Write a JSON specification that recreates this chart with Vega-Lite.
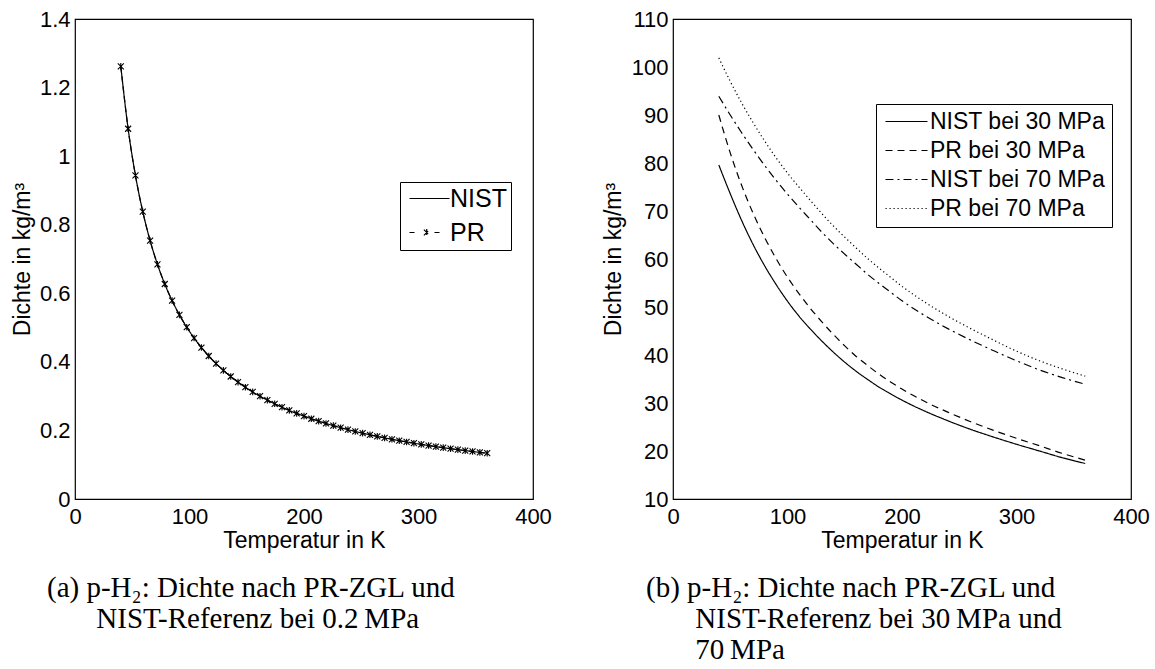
{
  "$schema": "https://vega.github.io/schema/vega-lite/v6.json",
  "padding": {"left": 10, "top": 7, "right": 5, "bottom": 5},
  "background": "white",
  "resolve": {"scale": {"strokeDash": "independent"}, "legend": {"strokeDash": "independent"}},
  "config": {
    "font": "Liberation Sans",
    "view": {"stroke": "black", "strokeWidth": 1.2},
    "axis": {"grid": false, "domain": false, "labelFont": "Liberation Sans", "labelFontSize": 22, "labelColor": "black", "titleFont": "Liberation Sans", "titleFontSize": 23, "titleFontWeight": "normal", "titleColor": "black", "tickColor": "black", "tickWidth": 1, "tickSize": 0, "labelOverlap": false, "labelFlush": false, "format": "~f"},
    "legend": {"labelFont": "Liberation Sans", "labelFontSize": 23, "labelColor": "black", "strokeColor": "black", "fillColor": "white", "symbolStrokeColor": "black", "symbolStrokeWidth": 1.2, "symbolSize": 16, "title": null, "labelLimit": 0}
  },
  "datasets": {
    "low": [
      {"T": 40, "NIST": 1.2619, "PR": 1.2619},
      {"T": 46.4, "NIST": 1.0799, "PR": 1.0799},
      {"T": 52.8, "NIST": 0.9437, "PR": 0.9437},
      {"T": 59.2, "NIST": 0.838, "PR": 0.838},
      {"T": 65.6, "NIST": 0.7535, "PR": 0.7535},
      {"T": 72, "NIST": 0.6845, "PR": 0.6845},
      {"T": 78.4, "NIST": 0.6271, "PR": 0.6271},
      {"T": 84.8, "NIST": 0.5786, "PR": 0.5786},
      {"T": 91.2, "NIST": 0.537, "PR": 0.537},
      {"T": 97.6, "NIST": 0.501, "PR": 0.501},
      {"T": 104, "NIST": 0.4695, "PR": 0.4695},
      {"T": 110.4, "NIST": 0.4418, "PR": 0.4418},
      {"T": 116.8, "NIST": 0.4171, "PR": 0.4171},
      {"T": 123.2, "NIST": 0.395, "PR": 0.395},
      {"T": 129.6, "NIST": 0.3752, "PR": 0.3752},
      {"T": 136, "NIST": 0.3573, "PR": 0.3573},
      {"T": 142.4, "NIST": 0.341, "PR": 0.341},
      {"T": 148.8, "NIST": 0.3261, "PR": 0.3261},
      {"T": 155.2, "NIST": 0.3124, "PR": 0.3124},
      {"T": 161.6, "NIST": 0.2999, "PR": 0.2999},
      {"T": 168, "NIST": 0.2883, "PR": 0.2883},
      {"T": 174.4, "NIST": 0.2776, "PR": 0.2776},
      {"T": 180.8, "NIST": 0.2677, "PR": 0.2677},
      {"T": 187.2, "NIST": 0.2584, "PR": 0.2584},
      {"T": 193.6, "NIST": 0.2498, "PR": 0.2498},
      {"T": 200, "NIST": 0.2417, "PR": 0.2417},
      {"T": 206.4, "NIST": 0.2341, "PR": 0.2341},
      {"T": 212.8, "NIST": 0.227, "PR": 0.227},
      {"T": 219.2, "NIST": 0.2203, "PR": 0.2203},
      {"T": 225.6, "NIST": 0.214, "PR": 0.214},
      {"T": 232, "NIST": 0.208, "PR": 0.208},
      {"T": 238.4, "NIST": 0.2024, "PR": 0.2024},
      {"T": 244.8, "NIST": 0.197, "PR": 0.197},
      {"T": 251.2, "NIST": 0.192, "PR": 0.192},
      {"T": 257.6, "NIST": 0.1872, "PR": 0.1872},
      {"T": 264, "NIST": 0.1826, "PR": 0.1826},
      {"T": 270.4, "NIST": 0.1782, "PR": 0.1782},
      {"T": 276.8, "NIST": 0.1741, "PR": 0.1741},
      {"T": 283.2, "NIST": 0.1701, "PR": 0.1701},
      {"T": 289.6, "NIST": 0.1663, "PR": 0.1663},
      {"T": 296, "NIST": 0.1627, "PR": 0.1627},
      {"T": 302.4, "NIST": 0.1592, "PR": 0.1592},
      {"T": 308.8, "NIST": 0.1559, "PR": 0.1559},
      {"T": 315.2, "NIST": 0.1527, "PR": 0.1527},
      {"T": 321.6, "NIST": 0.1497, "PR": 0.1497},
      {"T": 328, "NIST": 0.1467, "PR": 0.1467},
      {"T": 334.4, "NIST": 0.1439, "PR": 0.1439},
      {"T": 340.8, "NIST": 0.1412, "PR": 0.1412},
      {"T": 347.2, "NIST": 0.1386, "PR": 0.1386},
      {"T": 353.6, "NIST": 0.136, "PR": 0.136},
      {"T": 360, "NIST": 0.1336, "PR": 0.1336}
    ],
    "high": [
      {"T": 40, "NIST bei 30 MPa": 79.6, "PR bei 30 MPa": 90.0, "NIST bei 70 MPa": 93.9, "PR bei 70 MPa": 101.9},
      {"T": 50, "NIST bei 30 MPa": 73.6, "PR bei 30 MPa": 82.1, "NIST bei 70 MPa": 90.0, "PR bei 70 MPa": 97.0},
      {"T": 60, "NIST bei 30 MPa": 68.0, "PR bei 30 MPa": 75.3, "NIST bei 70 MPa": 86.3, "PR bei 70 MPa": 92.5},
      {"T": 70, "NIST bei 30 MPa": 63.0, "PR bei 30 MPa": 69.5, "NIST bei 70 MPa": 82.8, "PR bei 70 MPa": 88.4},
      {"T": 80, "NIST bei 30 MPa": 58.6, "PR bei 30 MPa": 64.5, "NIST bei 70 MPa": 79.5, "PR bei 70 MPa": 84.6},
      {"T": 90, "NIST bei 30 MPa": 54.7, "PR bei 30 MPa": 60.1, "NIST bei 70 MPa": 76.4, "PR bei 70 MPa": 81.1},
      {"T": 100, "NIST bei 30 MPa": 51.2, "PR bei 30 MPa": 56.2, "NIST bei 70 MPa": 73.5, "PR bei 70 MPa": 77.9},
      {"T": 110, "NIST bei 30 MPa": 48.1, "PR bei 30 MPa": 52.8, "NIST bei 70 MPa": 70.8, "PR bei 70 MPa": 75.0},
      {"T": 120, "NIST bei 30 MPa": 45.4, "PR bei 30 MPa": 49.7, "NIST bei 70 MPa": 68.2, "PR bei 70 MPa": 72.2},
      {"T": 130, "NIST bei 30 MPa": 42.9, "PR bei 30 MPa": 46.9, "NIST bei 70 MPa": 65.6, "PR bei 70 MPa": 69.45},
      {"T": 140, "NIST bei 30 MPa": 40.6, "PR bei 30 MPa": 44.3, "NIST bei 70 MPa": 63.2, "PR bei 70 MPa": 66.9},
      {"T": 150, "NIST bei 30 MPa": 38.5, "PR bei 30 MPa": 41.9, "NIST bei 70 MPa": 61.0, "PR bei 70 MPa": 64.55},
      {"T": 160, "NIST bei 30 MPa": 36.6, "PR bei 30 MPa": 39.7, "NIST bei 70 MPa": 58.9, "PR bei 70 MPa": 62.3},
      {"T": 170, "NIST bei 30 MPa": 34.9, "PR bei 30 MPa": 37.8, "NIST bei 70 MPa": 56.8, "PR bei 70 MPa": 60.1},
      {"T": 180, "NIST bei 30 MPa": 33.3, "PR bei 30 MPa": 36.0, "NIST bei 70 MPa": 54.9, "PR bei 70 MPa": 58.1},
      {"T": 190, "NIST bei 30 MPa": 31.9, "PR bei 30 MPa": 34.4, "NIST bei 70 MPa": 53.1, "PR bei 70 MPa": 56.2},
      {"T": 200, "NIST bei 30 MPa": 30.6, "PR bei 30 MPa": 32.9, "NIST bei 70 MPa": 51.3, "PR bei 70 MPa": 54.3},
      {"T": 210, "NIST bei 30 MPa": 29.4, "PR bei 30 MPa": 31.55, "NIST bei 70 MPa": 49.7, "PR bei 70 MPa": 52.6},
      {"T": 220, "NIST bei 30 MPa": 28.3, "PR bei 30 MPa": 30.3, "NIST bei 70 MPa": 48.2, "PR bei 70 MPa": 51.0},
      {"T": 240, "NIST bei 30 MPa": 26.3, "PR bei 30 MPa": 28.1, "NIST bei 70 MPa": 45.5, "PR bei 70 MPa": 48.1},
      {"T": 260, "NIST bei 30 MPa": 24.5, "PR bei 30 MPa": 26.1, "NIST bei 70 MPa": 43.1, "PR bei 70 MPa": 45.5},
      {"T": 280, "NIST bei 30 MPa": 22.9, "PR bei 30 MPa": 24.3, "NIST bei 70 MPa": 40.9, "PR bei 70 MPa": 43.1},
      {"T": 300, "NIST bei 30 MPa": 21.4, "PR bei 30 MPa": 22.65, "NIST bei 70 MPa": 38.8, "PR bei 70 MPa": 40.8},
      {"T": 320, "NIST bei 30 MPa": 20.0, "PR bei 30 MPa": 21.1, "NIST bei 70 MPa": 36.9, "PR bei 70 MPa": 38.8},
      {"T": 340, "NIST bei 30 MPa": 18.6, "PR bei 30 MPa": 19.5, "NIST bei 70 MPa": 35.3, "PR bei 70 MPa": 37.1},
      {"T": 360, "NIST bei 30 MPa": 17.4, "PR bei 30 MPa": 18.1, "NIST bei 70 MPa": 33.9, "PR bei 70 MPa": 35.6}
    ]
  },
  "spacing": 49,
  "hconcat": [
    {
      "width": 458,
      "height": 480,
      "title": {"text": ["(a) p-H₂: Dichte nach PR-ZGL und", "\u200b\u2003\u2002\u2009NIST-Referenz bei 0.2\u2009MPa"], "orient": "bottom", "anchor": "start", "frame": "group", "dx": -28, "offset": 22, "font": "Liberation Serif", "fontSize": 29, "fontWeight": "normal", "color": "black", "lineHeight": 31},
      "data": {"name": "low"},
      "transform": [{"fold": ["NIST", "PR"], "as": ["model", "rho"]}],
      "resolve": {"axis": {"x": "independent", "y": "independent"}},
      "layer": [
        {
          "mark": {"type": "line", "strokeWidth": 1.2, "interpolate": "monotone", "color": "black"},
          "encoding": {
            "x": {"field": "T", "type": "quantitative", "scale": {"domain": [0, 400], "nice": false, "zero": false},
              "axis": {"orient": "bottom", "title": "Temperatur in K", "values": [0,10,20,30,40,50,60,70,80,90,100,110,120,130,140,150,160,170,180,190,200,210,220,230,240,250,260,270,280,290,300,310,320,330,340,350,360,370,380,390,400], "labelExpr": "datum.value % 100 === 0 ? datum.label : ''", "labelPadding": 7, "titlePadding": 2,
                "encode": {"ticks": {"update": {"y2": {"signal": "datum.value % 100 === 0 ? -5 : -3"}}}}}},
            "y": {"field": "rho", "type": "quantitative", "scale": {"domain": [0, 1.4], "nice": false},
              "axis": {"orient": "left", "title": "Dichte in kg/m³", "values": [0,0.04,0.08,0.12,0.16,0.2,0.24,0.28,0.32,0.36,0.4,0.44,0.48,0.52,0.56,0.6,0.64,0.68,0.72,0.76,0.8,0.84,0.88,0.92,0.96,1,1.04,1.08,1.12,1.16,1.2,1.24,1.28,1.32,1.36,1.4], "labelExpr": "abs(datum.value*5 - round(datum.value*5)) < 0.001 ? datum.label : ''", "labelPadding": 5, "titlePadding": 5,
                "encode": {"ticks": {"update": {"x2": {"signal": "abs(datum.value*5 - round(datum.value*5)) < 0.001 ? 5 : 3"}}}}}},
            "strokeDash": {"field": "model", "type": "nominal", "scale": {"domain": ["NIST", "PR"], "range": [[1, 0], [6, 4]]},
              "legend": {"orient": "none", "legendX": 325, "legendY": 163, "padding": 4, "rowPadding": 8, "labelOffset": 21, "labelFontSize": 25,
                "encode": {"symbols": {"update": {
                  "shape": {"signal": "datum.value === 'PR' ? 'M-3.5,0L-1,0M9,0L11.5,0M3.7,-1.4L6.5,1.4M3.7,1.4L6.5,-1.4M5.1,-1.7L5.1,1.7' : 'M-3.5,0L16.5,0'"},
                  "strokeDash": {"value": [1, 0]},
                  "fill": {"value": "transparent"},
                  "stroke": {"value": "black"}}}}}}
          }
        },
        {
          "transform": [{"filter": "datum.model === 'PR'"}],
          "mark": {"type": "point", "shape": "M-1,-1L1,1M-1,1L1,-1M0,-1.1L0,1.1", "size": 36, "strokeWidth": 1.1, "color": "black", "filled": false, "opacity": 1},
          "encoding": {
            "x": {"field": "T", "type": "quantitative",
              "axis": {"orient": "top", "title": null, "labels": false, "values": [0,10,20,30,40,50,60,70,80,90,100,110,120,130,140,150,160,170,180,190,200,210,220,230,240,250,260,270,280,290,300,310,320,330,340,350,360,370,380,390,400],
                "encode": {"ticks": {"update": {"y2": {"signal": "datum.value % 100 === 0 ? 5 : 3"}}}}}},
            "y": {"field": "rho", "type": "quantitative",
              "axis": {"orient": "right", "title": null, "labels": false, "values": [0,0.04,0.08,0.12,0.16,0.2,0.24,0.28,0.32,0.36,0.4,0.44,0.48,0.52,0.56,0.6,0.64,0.68,0.72,0.76,0.8,0.84,0.88,0.92,0.96,1,1.04,1.08,1.12,1.16,1.2,1.24,1.28,1.32,1.36,1.4],
                "encode": {"ticks": {"update": {"x2": {"signal": "abs(datum.value*5 - round(datum.value*5)) < 0.001 ? -5 : -3"}}}}}}
          }
        }
      ]
    },
    {
      "width": 458,
      "height": 480,
      "title": {"text": ["(b) p-H₂: Dichte nach PR-ZGL und", "\u200b\u2003\u2002\u2009NIST-Referenz bei 30\u2009MPa und", "\u200b\u2003\u2002\u200970\u2009MPa"], "orient": "bottom", "anchor": "start", "frame": "group", "dx": -27, "offset": 22, "font": "Liberation Serif", "fontSize": 29, "fontWeight": "normal", "color": "black", "lineHeight": 31},
      "data": {"name": "high"},
      "transform": [{"fold": ["NIST bei 30 MPa", "PR bei 30 MPa", "NIST bei 70 MPa", "PR bei 70 MPa"], "as": ["model", "rho"]}],
      "resolve": {"axis": {"x": "independent", "y": "independent"}},
      "layer": [
        {
          "transform": [{"filter": "indexof(datum.model, 'NIST') === 0"}],
          "mark": {"type": "line", "strokeWidth": 1.2, "interpolate": "monotone", "color": "black"},
          "encoding": {
            "x": {"field": "T", "type": "quantitative", "scale": {"domain": [0, 400], "nice": false, "zero": false},
              "axis": {"orient": "bottom", "title": "Temperatur in K", "values": [0,10,20,30,40,50,60,70,80,90,100,110,120,130,140,150,160,170,180,190,200,210,220,230,240,250,260,270,280,290,300,310,320,330,340,350,360,370,380,390,400], "labelExpr": "datum.value % 100 === 0 ? datum.label : ''", "labelPadding": 7, "titlePadding": 2,
                "encode": {"ticks": {"update": {"y2": {"signal": "datum.value % 100 === 0 ? -5 : -3"}}}}}},
            "y": {"field": "rho", "type": "quantitative", "scale": {"domain": [10, 110], "nice": false, "zero": false},
              "axis": {"orient": "left", "title": "Dichte in kg/m³", "values": [10,15,20,25,30,35,40,45,50,55,60,65,70,75,80,85,90,95,100,105,110], "labelExpr": "datum.value % 10 === 0 ? datum.label : ''", "labelPadding": 5, "titlePadding": 6,
                "encode": {"ticks": {"update": {"x2": {"signal": "datum.value % 10 === 0 ? 5 : 3"}}}}}},
            "strokeDash": {"field": "model", "type": "nominal", "scale": {"domain": ["NIST bei 30 MPa", "PR bei 30 MPa", "NIST bei 70 MPa", "PR bei 70 MPa"], "range": [[1, 0], [7, 5], [8, 4, 2, 4], [1.2, 2.8]]},
              "legend": {"orient": "none", "legendX": 203, "legendY": 85, "padding": 6, "rowPadding": 5, "labelOffset": 25,
                "encode": {"symbols": {"update": {
                  "shape": {"value": "M-4,0L17,0"},
                  "fill": {"value": "transparent"},
                  "stroke": {"value": "black"}}}}}}
          }
        },
        {
          "transform": [{"filter": "indexof(datum.model, 'PR') === 0"}],
          "mark": {"type": "line", "strokeWidth": 1.2, "interpolate": "monotone", "color": "black"},
          "encoding": {
            "x": {"field": "T", "type": "quantitative",
              "axis": {"orient": "top", "title": null, "labels": false, "values": [0,10,20,30,40,50,60,70,80,90,100,110,120,130,140,150,160,170,180,190,200,210,220,230,240,250,260,270,280,290,300,310,320,330,340,350,360,370,380,390,400],
                "encode": {"ticks": {"update": {"y2": {"signal": "datum.value % 100 === 0 ? 5 : 3"}}}}}},
            "y": {"field": "rho", "type": "quantitative",
              "axis": {"orient": "right", "title": null, "labels": false, "values": [10,15,20,25,30,35,40,45,50,55,60,65,70,75,80,85,90,95,100,105,110],
                "encode": {"ticks": {"update": {"x2": {"signal": "datum.value % 10 === 0 ? -5 : -3"}}}}}},
            "strokeDash": {"field": "model", "type": "nominal",
              "legend": {"orient": "none", "legendX": 203, "legendY": 85, "padding": 6, "rowPadding": 5, "labelOffset": 25,
                "encode": {"symbols": {"update": {
                  "shape": {"value": "M-4,0L17,0"},
                  "fill": {"value": "transparent"},
                  "stroke": {"value": "black"}}}}}}
          }
        }
      ]
    }
  ]
}
